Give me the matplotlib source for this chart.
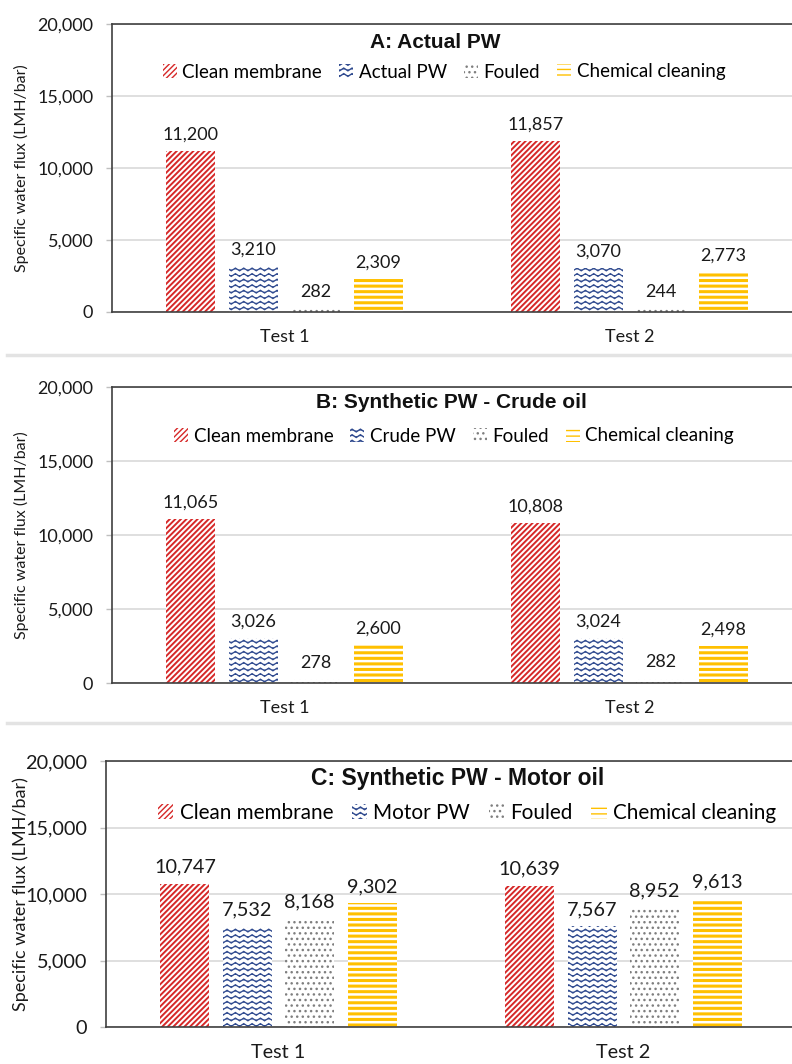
import numpy as np
import matplotlib
matplotlib.use('Agg')
import matplotlib.pyplot as plt
import matplotlib.hatch as mhatch
from matplotlib.path import Path
from matplotlib.lines import Line2D
from matplotlib import font_manager

# ---------------- data ----------------
tests = ['Test 1', 'Test 2']
series_A = ['Clean membrane', 'Actual PW', 'Fouled', 'Chemical cleaning']
series_B = ['Clean membrane', 'Crude PW', 'Fouled', 'Chemical cleaning']
series_C = ['Clean membrane', 'Motor PW', 'Fouled', 'Chemical cleaning']

clean_A = [11200, 11857]
pw_A = [3210, 3070]
fouled_A = [282, 244]
chem_A = [2309, 2773]

clean_B = [11065, 10808]
pw_B = [3026, 3024]
fouled_B = [278, 282]
chem_B = [2600, 2498]

clean_C = [10747, 10639]
pw_C = [7532, 7567]
fouled_C = [8168, 8952]
chem_C = [9302, 9613]

titles = ['A: Actual PW', 'B: Synthetic PW - Crude oil', 'C: Synthetic PW - Motor oil']
yticks = [0, 5000, 10000, 15000, 20000]
ylabel = 'Specific water flux (LMH/bar)'

# ---------------- custom wave hatch (re-uses the 'o' hatch letter) ----------------
class WaveHatch(mhatch.HatchPatternBase):
    def __init__(self, hatch, density):
        self.num_rows = int(hatch.count('o') * 6)
        self.n_periods = 12
        self.pts = 4 * self.n_periods + 1
        self.num_vertices = self.num_rows * self.pts if self.num_rows else 0

    def set_vertices_and_codes(self, vertices, codes):
        xs = np.linspace(0, 1, self.pts)
        amp = 0.25 / max(self.num_rows, 1)
        wave = np.sin(np.linspace(0, 2 * np.pi * self.n_periods, self.pts))
        k = 0
        for i in range(self.num_rows):
            y0 = (i + 0.5) / self.num_rows
            vertices[k:k + self.pts, 0] = xs
            vertices[k:k + self.pts, 1] = y0 + amp * wave
            codes[k] = Path.MOVETO
            codes[k + 1:k + self.pts] = Path.LINETO
            k += self.pts

mhatch._hatch_types = [h for h in mhatch._hatch_types if h is not mhatch.SmallCircles] + [WaveHatch]

# ---------------- fonts ----------------
avail = {f.name for f in font_manager.fontManager.ttflist}
body = 'Lato' if 'Lato' in avail else 'DejaVu Sans'
tfont = 'Liberation Sans Narrow' if 'Liberation Sans Narrow' in avail else 'Liberation Sans'
plt.rcParams['font.family'] = [body, 'DejaVu Sans']

W, H = 792, 1064
fig = plt.figure(figsize=(W / 100, H / 100), dpi=100)

colors = ['#D62828', '#2F4A8F', '#7F7F7F', '#FFC000']
hatches = ['//////', 'ooo', '...', '---']
hlw = [1.4, 0.9, 1.0, 2.2]

panels = [
    dict(series=series_A, data=[clean_A, pw_A, fouled_A, chem_A], left=112, top=24, bottom=312,
         title_xy=(435, 43), leg_xy=(444, 72), fs=1.0, yl=11.5),
    dict(series=series_B, data=[clean_B, pw_B, fouled_B, chem_B], left=112, top=387, bottom=683,
         title_xy=(451, 403), leg_xy=(454, 436), fs=1.0, yl=11.5),
    dict(series=series_C, data=[clean_C, pw_C, fouled_C, chem_C], left=106, top=761, bottom=1027,
         title_xy=(458, 778), leg_xy=(467, 813), fs=1.1, yl=13.0),
]

x = np.arange(len(tests))
step = 0.181
width = 0.142
offsets = (np.arange(4) - 1.5) * step

for i, p in enumerate(panels):
    ax = fig.add_axes([p['left'] / W, 1 - p['bottom'] / H, 690 / W, (p['bottom'] - p['top']) / H])
    fs = p['fs']
    handles = []
    for j in range(4):
        bars = ax.bar(x + offsets[j], p['data'][j], width, color='white', edgecolor=colors[j],
                      linewidth=0, hatch=hatches[j], label=p['series'][j], zorder=3)
        for b in bars:
            if hasattr(b, 'set_hatch_linewidth'):
                b.set_hatch_linewidth(hlw[j])
        handles.append(bars)
        for xi, v in zip(x + offsets[j], p['data'][j]):
            ax.annotate(f'{v:,}', (xi, v), xytext=(0, 6), textcoords='offset points',
                        ha='center', va='bottom', fontsize=13 * fs, color='#1a1a1a')
    ax.set_xlim(-0.5, 1.5)
    ax.set_ylim(0, 20000)
    ax.set_yticks(yticks)
    ax.set_yticklabels([f'{t:,}' for t in yticks], fontsize=13 * fs, color='#1a1a1a')
    ax.set_xticks(x)
    ax.set_xticklabels(tests, fontsize=13 * fs, color='#1a1a1a')
    ax.tick_params(axis='x', length=0, pad=12)
    ax.tick_params(axis='y', length=4.5, color='#BFBFBF', width=1, pad=9)
    ax.grid(axis='y', color='#D9D9D9', linewidth=1.2, zorder=0)
    ax.set_axisbelow(True)
    for s in ['left', 'bottom', 'top']:
        ax.spines[s].set_color('#404040')
        ax.spines[s].set_linewidth(1.2)
    ax.spines['right'].set_visible(False)
    ax.spines['bottom'].set_zorder(4)

    fig.text(p['title_xy'][0] / W, 1 - p['title_xy'][1] / H, titles[i], ha='center', va='center',
             fontsize=15 * fs, fontweight='bold', family=tfont, color='#111111')
    ax.legend(handles, p['series'], loc='center', ncol=4, frameon=False,
              bbox_to_anchor=(p['leg_xy'][0] / W, 1 - p['leg_xy'][1] / H), bbox_transform=fig.transFigure,
              handlelength=0.75, handleheight=0.75, handletextpad=0.3, columnspacing=0.9,
              borderaxespad=0, borderpad=0, fontsize=13.5 * fs)
    fig.text(21 / W, 1 - ((p['top'] + p['bottom']) / 2) / H, ylabel, rotation=90, ha='center',
             va='center', fontsize=p['yl'], color='#1a1a1a')

for yy in [355, 723]:
    fig.add_artist(Line2D([7 / W, 1], [1 - yy / H, 1 - yy / H], transform=fig.transFigure,
                          color='#E3E3E3', linewidth=2.5))

fig.savefig('out.png', dpi=100, facecolor='white')
